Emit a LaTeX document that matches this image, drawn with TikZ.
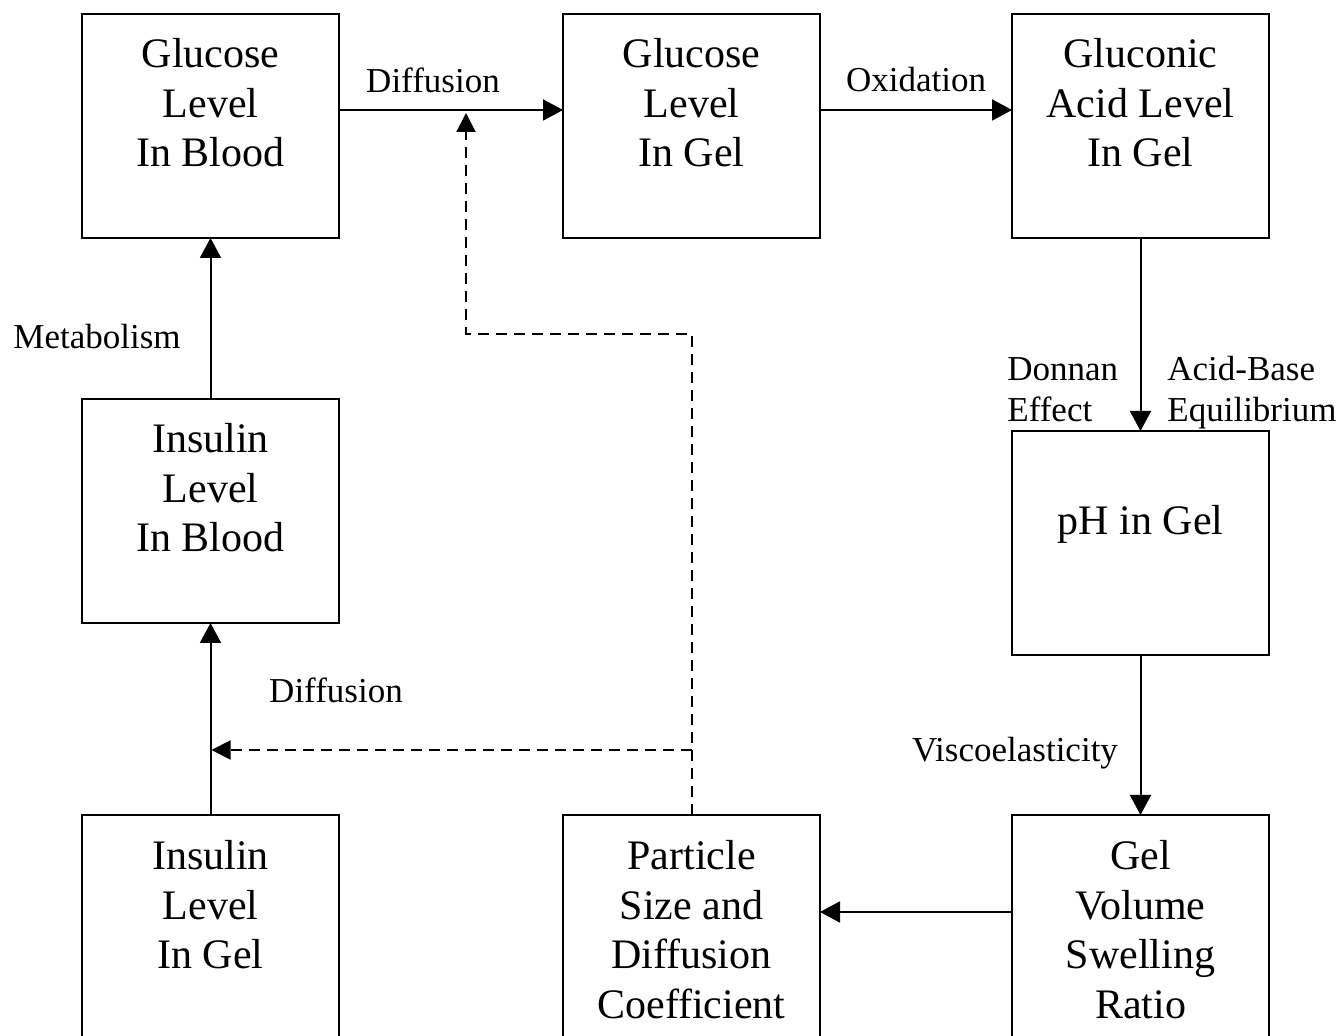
\documentclass[tikz,border=0pt]{standalone}
\usepackage{fontspec}
\setmainfont{Liberation Serif}
\usetikzlibrary{arrows.meta}
\begin{document}
\begin{tikzpicture}[x=0.5pt,y=-0.5pt,
  box/.style={draw, line width=1pt, rectangle, minimum width=128.5pt, minimum height=112pt, inner sep=0pt, outer sep=0pt},
  tallbox/.style={box, minimum height=125pt},
  boxtxt/.style={font=\fontsize{21}{24.75}\selectfont, align=center, inner sep=0pt, anchor=north},
  lbl/.style={font=\fontsize{17.5}{20.5}\selectfont, inner sep=0pt},
  arr/.style={line width=1pt, -{Triangle[length=10pt,width=10.5pt]}},
  darr/.style={line width=1pt, dash pattern=on 5.5pt off 3.5pt, -{Triangle[length=9.5pt,width=9.5pt]}}]
\useasboundingbox (0,0) rectangle (1341,1036);
% boxes
\node[box] (gb) at (210.5,126) {};
\node[box] (gg) at (691.5,126) {};
\node[box] (ga) at (1140.5,126) {};
\node[box] (ib) at (210.5,511) {};
\node[box] (ph) at (1140.5,543) {};
\node[tallbox] (ig) at (210.5,940) {};
\node[tallbox] (ps) at (691.5,940) {};
\node[tallbox] (gv) at (1140.5,940) {};
% box texts
\node[boxtxt] (tgb) at (210.5,38) {Glucose\\Level\\In Blood};
\node[boxtxt] (tgg) at (691.5,38) {Glucose\\Level\\In Gel};
\node[boxtxt] (tga) at (1140.5,38) {Gluconic\\Acid Level\\In Gel};
\node[boxtxt] (tib) at (210.5,423) {Insulin\\Level\\In Blood};
\node[boxtxt] (tph) at (1140.5,505) {pH in Gel};
\node[boxtxt] (tig) at (210.5,840) {Insulin\\Level\\In Gel};
\node[boxtxt] (tps) at (691.5,840) {Particle\\Size and\\Diffusion\\Coefficient};
\node[boxtxt] (tgv) at (1140.5,840) {Gel\\Volume\\Swelling\\Ratio};
% labels
\node[lbl] (l1) at (433,80) {Diffusion};
\node[lbl] (l2) at (916,80) {Oxidation};
\node[lbl] (l3) at (97,337) {Metabolism};
\node[lbl, align=left, anchor=west] (l4) at (1007,390) {Donnan\\Effect};
\node[lbl, align=left, anchor=west] (l5) at (1167,393) {Acid-Base\\Equilibrium};
\node[lbl] (l6) at (1015,753) {Viscoelasticity};
\node[lbl] (l7) at (336,690) {Diffusion};
% helper coordinates
\coordinate (ya) at (0,110);
\coordinate (yr) at (0,912);
\coordinate (yb) at (0,750);
\coordinate (dk) at (466,334);
% solid arrows
\draw[arr] (gb.east |- ya) -- (gg.west |- ya);
\draw[arr] (gg.east |- ya) -- (ga.west |- ya);
\draw[arr] (ga.south) -- (ph.north);
\draw[arr] (ph.south) -- (gv.north);
\draw[arr] (gv.west |- yr) -- (ps.east |- yr);
\draw[arr] (ig.north) -- (ib.south);
\draw[arr] (ib.north) -- (gb.south);
% dashed feedback
\draw[darr] (ps.north) |- (dk) -- ([yshift=-1.5pt]dk |- ya);
\draw[darr] (ps.north |- yb) -- ([xshift=0.5pt]ig.north |- yb);
\end{tikzpicture}
\end{document}
